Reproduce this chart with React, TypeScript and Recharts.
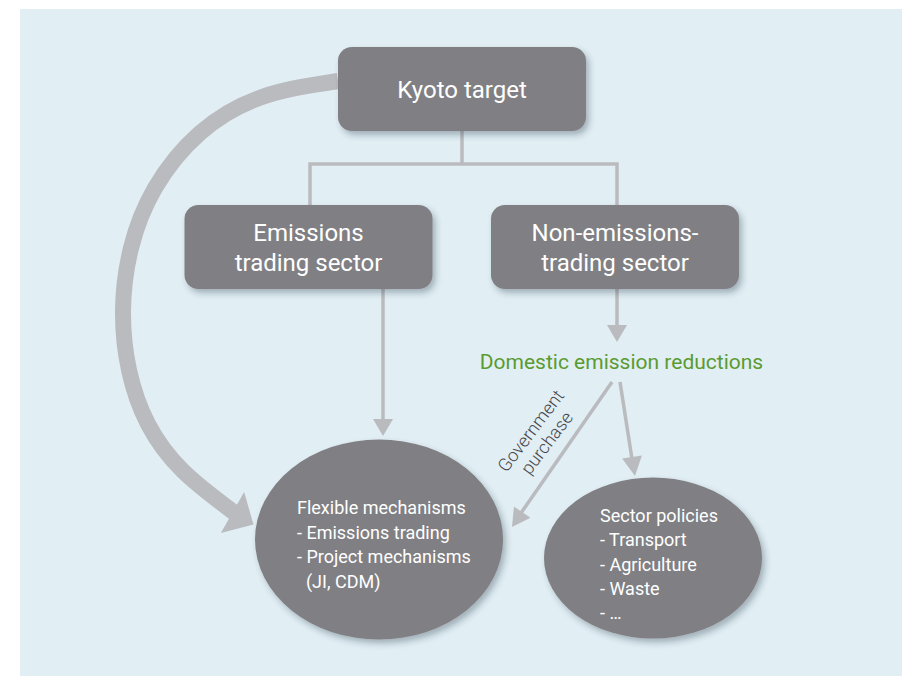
import React from 'react';
import { ComposedChart, XAxis, YAxis, Scatter, Line, ReferenceArea } from 'recharts';

// ---- Diagram data (chart units; 1 unit = 1 px of the 902x676 canvas) ----
const panelArea = { x1: 20, x2: 902, y1: 9, y2: 676 };

const boxNodes = [
  { id: 'kyoto', x: 462, y: 89, lines: ['Kyoto target'] },
  { id: 'ets', x: 308.5, y: 247, lines: ['Emissions', 'trading sector'] },
  { id: 'nets', x: 615, y: 247, lines: ['Non-emissions-', 'trading sector'] },
];

const ellipseNodes = [
  { id: 'flex', x: 379, y: 539.5, lines: ['Flexible mechanisms', '- Emissions trading', '- Project mechanisms', '  (JI, CDM)'] },
  { id: 'sector', x: 653, y: 558, lines: ['Sector policies', '- Transport', '- Agriculture', '- Waste', '- …'] },
];

const greenLabels = [{ id: 'domestic', x: 621.5, y: 361, text: 'Domestic emission reductions' }];
const arrowLabels = [{ id: 'gov', x: 539, y: 437, lines: ['Government', 'purchase'], angle: -53 }];

const treeStem = [
  { x: 462, y: 131 },
  { x: 462, y: 164 },
];
const treeBranch = [
  { x: 310, y: 205 },
  { x: 310, y: 164 },
  { x: 617, y: 164 },
  { x: 617, y: 205 },
];

const shaftEts = [
  { x: 383, y: 289 },
  { x: 383, y: 421 },
];
const shaftNets = [
  { x: 617, y: 289 },
  { x: 617, y: 327 },
];
const shaftGov = [
  { x: 612, y: 382 },
  { x: 521, y: 513 },
];
const shaftSector = [
  { x: 620, y: 382 },
  { x: 632, y: 459 },
];
const curvePts = [
  { x: 338, y: 81 },
  { x: 262, y: 97 },
  { x: 200, y: 133 },
  { x: 155, y: 188 },
  { x: 131, y: 248 },
  { x: 123, y: 310 },
  { x: 129, y: 370 },
  { x: 148, y: 424 },
  { x: 183, y: 471 },
  { x: 236, y: 514 },
];

// heads: tip (x,y) and base (bx,by)
const thinHeads = [
  { id: 'h1', x: 383, y: 436, bx: 383, by: 419 },
  { id: 'h2', x: 617, y: 342, bx: 617, by: 325 },
  { id: 'h3', x: 512, y: 527, bx: 522.2, by: 512.2 },
  { id: 'h4', x: 635, y: 476, bx: 632, by: 457 },
];
const thickHeads = [{ id: 'h5', x: 253.5, y: 524.5, bx: 232.5, by: 512.5 }];

// ---- Styles ----
const BG = '#e1eef4';
const NODE = '#808084';
const LINK = '#babbbf';
const GREEN = '#5a9b2f';
const FONT = 'Roboto, "Noto Sans", sans-serif';
const BOX_W = 248;
const BOX_H = 84;
const ELLIPSE_SIZE: Record<string, { rx: number; ry: number; dx: number; first: number; step: number }> = {
  flex: { rx: 124, ry: 100, dx: -82, first: -25.5, step: 24.7 },
  sector: { rx: 109, ry: 80.5, dx: -53, first: -36, step: 24.3 },
};

const Defs = () => (
  <defs>
    <filter id="nodeShadow" x="-20%" y="-20%" width="145%" height="150%">
      <feDropShadow dx="3" dy="4" stdDeviation="3" floodColor="#2a3a4a" floodOpacity="0.35" />
    </filter>
  </defs>
);

const BoxShape = (props: any) => {
  const { cx, cy, payload } = props;
  const n = payload.lines.length;
  return (
    <g>
      {payload.id === 'kyoto' && <Defs />}
      <rect
        x={cx - BOX_W / 2}
        y={cy - BOX_H / 2}
        width={BOX_W}
        height={BOX_H}
        rx={14}
        ry={14}
        fill={NODE}
        filter="url(#nodeShadow)"
      />
      {payload.lines.map((l: string, i: number) => (
        <text
          key={i}
          x={cx}
          y={cy + 9 - (n - 1) * 15 + i * 30}
          textAnchor="middle"
          fill="#ffffff"
          fontFamily={FONT}
          fontSize={24}
        >
          {l}
        </text>
      ))}
    </g>
  );
};

const EllipseShape = (props: any) => {
  const { cx, cy, payload } = props;
  const s = ELLIPSE_SIZE[payload.id];
  return (
    <g>
      <ellipse cx={cx} cy={cy} rx={s.rx} ry={s.ry} fill={NODE} filter="url(#nodeShadow)" />
      {payload.lines.map((l: string, i: number) => (
        <text
          key={i}
          x={cx + s.dx}
          y={cy + s.first + i * s.step}
          fill="#ffffff"
          fontFamily={FONT}
          fontSize={18}
          style={{ whiteSpace: 'pre' }}
        >
          {l}
        </text>
      ))}
    </g>
  );
};

const GreenShape = (props: any) => {
  const { cx, cy, payload } = props;
  return (
    <text x={cx} y={cy + 7.5} textAnchor="middle" fill={GREEN} fontFamily={FONT} fontSize={21}>
      {payload.text}
    </text>
  );
};

const RotLabelShape = (props: any) => {
  const { cx, cy, payload } = props;
  return (
    <g transform={`translate(${cx},${cy}) rotate(${payload.angle})`}>
      {payload.lines.map((l: string, i: number) => (
        <text
          key={i}
          x={0}
          y={-10 + i * 20 + 6}
          textAnchor="middle"
          fill="#47474a"
          fontFamily={FONT}
          fontWeight={300}
          fontSize={18}
        >
          {l}
        </text>
      ))}
    </g>
  );
};

const makeHead = (hw: number) => (props: any) => {
  const { cx, cy, payload } = props;
  const bx = cx + (payload.bx - payload.x);
  const by = cy + (payload.by - payload.y);
  const dx = cx - bx;
  const dy = cy - by;
  const len = Math.sqrt(dx * dx + dy * dy) || 1;
  const px = (-dy / len) * hw;
  const py = (dx / len) * hw;
  return <polygon points={`${cx},${cy} ${bx + px},${by + py} ${bx - px},${by - py}`} fill={LINK} />;
};
const ThinHead = makeHead(10);
const ThickHead = makeHead(23.5);

export default function App() {
  const lineProps = {
    dataKey: 'y',
    stroke: LINK,
    dot: false,
    activeDot: false,
    isAnimationActive: false,
    legendType: 'none' as const,
  };
  return (
    <div style={{ position: 'absolute', left: 0, top: 0, width: 902, height: 676, background: '#ffffff' }}>
      <ComposedChart width={902} height={676} margin={{ top: 0, right: 0, bottom: 0, left: 0 }}>
        <XAxis type="number" dataKey="x" domain={[0, 902]} hide allowDataOverflow />
        <YAxis type="number" dataKey="y" domain={[0, 676]} reversed hide allowDataOverflow />
        <ReferenceArea
          x1={panelArea.x1}
          x2={panelArea.x2}
          y1={panelArea.y1}
          y2={panelArea.y2}
          fill={BG}
          fillOpacity={1}
          stroke="none"
          ifOverflow="visible"
        />
        <Line {...lineProps} data={treeStem} strokeWidth={3.5} type="linear" />
        <Line {...lineProps} data={treeBranch} strokeWidth={3.5} type="linear" />
        <Line {...lineProps} data={shaftEts} strokeWidth={3.5} type="linear" />
        <Line {...lineProps} data={shaftNets} strokeWidth={3.5} type="linear" />
        <Line {...lineProps} data={shaftGov} strokeWidth={3.5} type="linear" />
        <Line {...lineProps} data={shaftSector} strokeWidth={3.5} type="linear" />
        <Line {...lineProps} data={curvePts} strokeWidth={16} type="natural" />
        <Scatter data={thinHeads} shape={ThinHead} isAnimationActive={false} />
        <Scatter data={thickHeads} shape={ThickHead} isAnimationActive={false} />
        <Scatter data={boxNodes} shape={BoxShape} isAnimationActive={false} />
        <Scatter data={ellipseNodes} shape={EllipseShape} isAnimationActive={false} />
        <Scatter data={greenLabels} shape={GreenShape} isAnimationActive={false} />
        <Scatter data={arrowLabels} shape={RotLabelShape} isAnimationActive={false} />
      </ComposedChart>
    </div>
  );
}
